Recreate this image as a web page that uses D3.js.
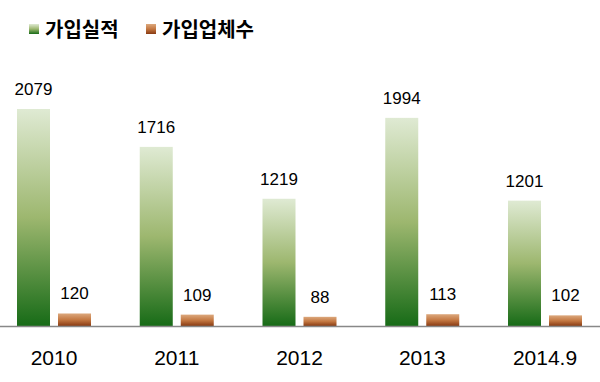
<!DOCTYPE html>
<html><head><meta charset="utf-8">
<script src="https://cdn.jsdelivr.net/npm/d3@7"></script>
<style>body{margin:0;background:#fff}svg{display:block}</style>
</head><body>
<script>
const categories = ["2010", "2011", "2012", "2013", "2014.9"];
const seriesNames = ["가입실적", "가입업체수"];
const joinResults = [2079, 1716, 1219, 1994, 1201];
const joinCompanies = [120, 109, 88, 113, 102];

const W = 600, H = 382;
const svg = d3.select("body").append("svg").attr("width", W).attr("height", H);
const defs = svg.append("defs");
function grad(id, stops) {
  const g = defs.append("linearGradient").attr("id", id).attr("x1", 0).attr("y1", 0).attr("x2", 0).attr("y2", 1);
  stops.forEach(s => g.append("stop").attr("offset", s[0]).attr("stop-color", s[1]));
}
grad("gGreen", [[0, "#dfead3"], [0.5, "#9db76f"], [1, "#176b17"]]);
grad("gOrange", [[0, "#dca87d"], [0.5, "#c47842"], [1, "#883a12"]]);
const fills = ["url(#gGreen)", "url(#gOrange)"];

const baseY = 326;
const x0 = d3.scaleBand().domain(categories).range([-7.35, 606.4]).padding(0);
const x1 = d3.scaleBand().domain(seriesNames).range([24.35, 98.35]).paddingInner(2 - 74 / 41).paddingOuter(0);
const y = d3.scaleLinear().domain([0, 2079]).range([baseY, 109]);

const data = categories.map((c, i) => ({ cat: c, vals: [joinResults[i], joinCompanies[i]] }));

const groups = svg.append("g").selectAll("g").data(data).join("g")
  .attr("transform", d => `translate(${x0(d.cat)},0)`);

groups.selectAll("rect").data(d => d.vals.map((v, j) => ({ v, s: seriesNames[j], j })))
  .join("rect")
  .attr("x", d => x1(d.s))
  .attr("width", x1.bandwidth())
  .attr("y", d => y(d.v))
  .attr("height", d => baseY - y(d.v))
  .attr("fill", d => fills[d.j]);

groups.selectAll("text.val").data(d => d.vals.map((v, j) => ({ v, s: seriesNames[j] })))
  .join("text").attr("class", "val")
  .attr("x", d => x1(d.s) + x1.bandwidth() / 2)
  .attr("y", d => y(d.v) - 14)
  .attr("text-anchor", "middle")
  .attr("font-family", "Liberation Sans, Arial, sans-serif")
  .attr("font-size", 17)
  .attr("fill", "#000")
  .text(d => d.v);

// axis line
svg.append("line").attr("x1", 0).attr("x2", W).attr("y1", baseY + 0.5).attr("y2", baseY + 0.5)
  .attr("stroke", "#888").attr("stroke-width", 1.5);

// category labels
const xAxis = d3.axisBottom(x0).tickSize(0).tickPadding(0);
const ax = svg.append("g").attr("transform", `translate(${x1.range()[0] + (x1.range()[1]-x1.range()[0])/2 - x0.bandwidth()/2},${baseY})`).call(xAxis);
ax.select(".domain").remove();
ax.selectAll("text")
  .attr("font-family", "Liberation Sans, Arial, sans-serif")
  .attr("font-size", 21)
  .attr("fill", "#000")
  .attr("dy", 0)
  .attr("y", 39);

// legend
const legendX = [29, 146];
const leg = svg.append("g").selectAll("g").data(seriesNames).join("g")
  .attr("transform", (d, i) => `translate(${legendX[i]},24)`);
leg.append("rect").attr("width", 10).attr("height", 10).attr("fill", (d, i) => fills[i]);
leg.append("text").attr("x", 16).attr("y", 12.5)
  .attr("font-family", "Noto Sans CJK KR, sans-serif")
  .attr("font-weight", "bold").attr("font-size", 20).attr("fill", "#000")
  .text(d => d);
</script>
</body></html>
